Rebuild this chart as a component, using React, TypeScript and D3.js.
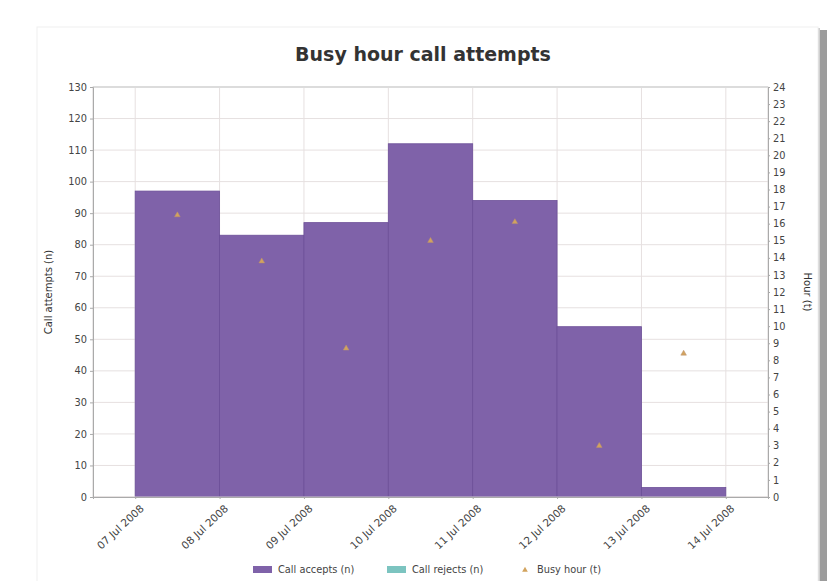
import React from "react";
import * as d3 from "d3";

// days covered by the bars (each bar spans one full day)
const days = ["2008-07-07", "2008-07-08", "2008-07-09", "2008-07-10", "2008-07-11", "2008-07-12", "2008-07-13"];
const callAccepts = [97, 83, 87, 112, 94, 54, 3];
const callRejects = [0, 0, 0, 0, 0, 0, 0];
const busyHour = [16.5, 13.8, 8.7, 15.0, 16.1, 3.0, 8.4];
const xTickDays = ["2008-07-07", "2008-07-08", "2008-07-09", "2008-07-10", "2008-07-11", "2008-07-12", "2008-07-13", "2008-07-14"];
const xTickLabels = ["07 Jul 2008", "08 Jul 2008", "09 Jul 2008", "10 Jul 2008", "11 Jul 2008", "12 Jul 2008", "13 Jul 2008", "14 Jul 2008"];
const leftTicks = d3.range(0, 131, 10);
const rightTicks = d3.range(0, 25, 1);
const legendItems = ["Call accepts (n)", "Call rejects (n)", "Busy hour (t)"];

const App: React.FC = () => {
  const svgRef = React.useRef<SVGSVGElement | null>(null);

  React.useEffect(() => {
    if (!svgRef.current) return;
    const svg = d3.select(svgRef.current);
    svg.selectAll("*").remove();

    const width = 827;
    const height = 581;
    const plot = { left: 93, right: 768, top: 87, bottom: 497 };
    const font = "'DejaVu Sans', Verdana, sans-serif";
    const purple = "#7f62a9";
    const teal = "#7cc4c0";
    const tri = "#d2a35e";

    svg.attr("width", width).attr("height", height);

    // card + shadow
    svg.append("rect").attr("width", width).attr("height", height).attr("fill", "#fff");
    svg.append("rect").attr("x", 819).attr("y", 30).attr("width", 8).attr("height", height - 30).attr("fill", "#9c9c9c");
    svg.append("rect").attr("x", 817).attr("y", 28).attr("width", 3).attr("height", height - 28).attr("fill", "#cfcfcf");
    svg.append("rect").attr("x", 37).attr("y", 27).attr("width", 781).attr("height", height).attr("fill", "#fff")
      .attr("stroke", "#f0f0f0");

    const x = d3.scaleUtc()
      .domain([new Date("2008-07-06T12:00:00Z"), new Date("2008-07-14T12:00:00Z")])
      .range([plot.left, plot.right]);
    const y = d3.scaleLinear().domain([0, 130]).range([plot.bottom, plot.top]);
    const yR = d3.scaleLinear().domain([0, 24]).range([plot.bottom, plot.top]);

    const g = svg.append("g");

    // gridlines
    g.selectAll(".hgrid").data(leftTicks).join("line")
      .attr("x1", plot.left).attr("x2", plot.right)
      .attr("y1", (d) => y(d)).attr("y2", (d) => y(d))
      .attr("stroke", "#e6e0e0").attr("stroke-width", 1);
    g.selectAll(".vgrid").data(xTickDays).join("line")
      .attr("x1", (d) => x(new Date(d + "T00:00:00Z"))).attr("x2", (d) => x(new Date(d + "T00:00:00Z")))
      .attr("y1", plot.top).attr("y2", plot.bottom)
      .attr("stroke", "#e6e0e0").attr("stroke-width", 1);

    // bars
    g.selectAll(".bar").data(days).join("rect")
      .attr("x", (d) => x(new Date(d + "T00:00:00Z")))
      .attr("width", (d) => x(d3.utcDay.offset(new Date(d + "T00:00:00Z"), 1)) - x(new Date(d + "T00:00:00Z")))
      .attr("y", (d, i) => y(callAccepts[i] + callRejects[i]))
      .attr("height", (d, i) => plot.bottom - y(callAccepts[i] + callRejects[i]))
      .attr("fill", purple)
      .attr("stroke", "#6c4f98")
      .attr("stroke-width", 0.8);

    // busy hour markers
    const triPath = d3.symbol().type(d3.symbolTriangle).size(14);
    g.selectAll(".tri").data(days).join("path")
      .attr("d", triPath)
      .attr("transform", (d, i) => `translate(${x(new Date(d + "T12:00:00Z"))},${yR(busyHour[i])})`)
      .attr("fill", tri)
      .attr("stroke", "#b89070")
      .attr("stroke-width", 0.5);

    // frame
    g.append("rect")
      .attr("x", plot.left).attr("y", plot.top)
      .attr("width", plot.right - plot.left).attr("height", plot.bottom - plot.top)
      .attr("fill", "none").attr("stroke", "#d8d4d4");
    g.append("line").attr("x1", plot.left).attr("x2", plot.right).attr("y1", plot.top).attr("y2", plot.top)
      .attr("stroke", "#dcdcdc").attr("stroke-width", 2);

    // left axis
    const leftAxis = svg.append("g")
      .attr("transform", `translate(${plot.left},0)`)
      .call(d3.axisLeft(y).tickValues(leftTicks).tickSize(3).tickPadding(3));
    // right axis
    const rightAxis = svg.append("g")
      .attr("transform", `translate(${plot.right},0)`)
      .call(d3.axisRight(yR).tickValues(rightTicks).tickSize(2).tickPadding(3));
    // bottom axis
    const tickDates = xTickDays.map((d) => new Date(d + "T00:00:00Z"));
    const bottomAxis = svg.append("g")
      .attr("transform", `translate(0,${plot.bottom})`)
      .call(d3.axisBottom(x).tickValues(tickDates).tickSize(2).tickFormat((d, i) => xTickLabels[i]));

    [leftAxis, rightAxis, bottomAxis].forEach((ax) => {
      ax.select(".domain").attr("stroke", "#aaa");
      ax.selectAll(".tick line").attr("stroke", "#aaa");
      ax.selectAll(".tick text").attr("fill", "#444").attr("font-family", font).attr("font-size", 9.8);
    });
    bottomAxis.selectAll(".tick text")
      .attr("font-size", 10.5)
      .attr("text-anchor", "end")
      .attr("dy", "0.35em")
      .attr("transform", "translate(3,6) rotate(-43)");

    // axis titles
    svg.append("text")
      .attr("transform", `translate(52,${(plot.top + plot.bottom) / 2}) rotate(-90)`)
      .attr("text-anchor", "middle")
      .attr("font-family", font).attr("font-size", 10).attr("fill", "#333")
      .text("Call attempts (n)");
    svg.append("text")
      .attr("transform", `translate(804,${(plot.top + plot.bottom) / 2}) rotate(90)`)
      .attr("text-anchor", "middle")
      .attr("font-family", font).attr("font-size", 10).attr("fill", "#333")
      .text("Hour (t)");

    // title
    svg.append("text")
      .attr("x", 423).attr("y", 61)
      .attr("text-anchor", "middle")
      .attr("font-family", font).attr("font-size", 19).attr("font-weight", "bold").attr("fill", "#333")
      .text("Busy hour call attempts");

    // legend
    const legendX = [253, 387, 521];
    const legend = svg.append("g");
    legendItems.forEach((label, i) => {
      const lx = legendX[i];
      if (i < 2) {
        legend.append("rect").attr("x", lx).attr("y", 566).attr("width", 19).attr("height", 7)
          .attr("fill", i === 0 ? purple : teal);
      } else {
        legend.append("path").attr("d", triPath).attr("transform", `translate(${lx + 4},570)`).attr("fill", tri);
      }
      legend.append("text")
        .attr("x", i < 2 ? lx + 25 : lx + 16).attr("y", 573)
        .attr("font-family", font).attr("font-size", 9.8).attr("fill", "#444")
        .text(label);
    });
  }, []);

  return <svg ref={svgRef} style={{ position: "absolute", left: 0, top: 0, display: "block" }}></svg>;
};

export default App;
